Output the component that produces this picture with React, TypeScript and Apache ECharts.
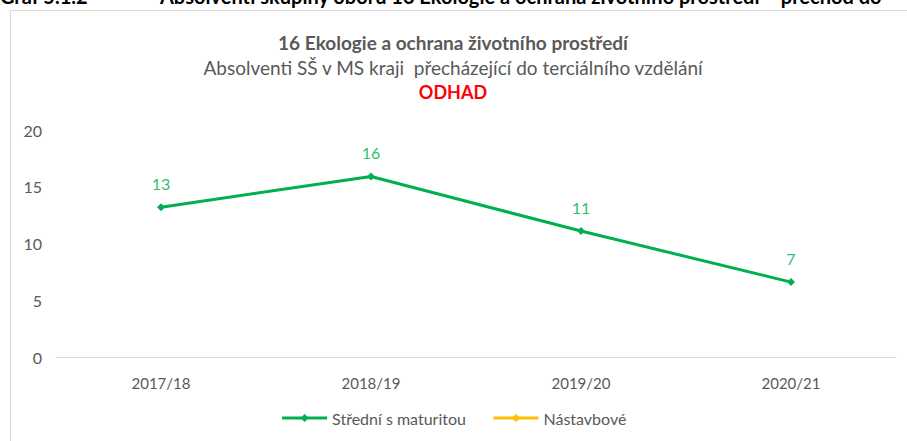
import React, { useEffect, useRef } from "react";
import * as echarts from "echarts";

const categories = ["2017/18", "2018/19", "2019/20", "2020/21"];
const stredniValues = [13.2, 15.9, 11.1, 6.6];
const nastavboveValues: (number | null)[] = [null, null, null, null];
const seriesNames = ["Střední s maturitou", "Nástavbové"];
const yTicks = { min: 0, max: 20, interval: 5 };

const FONT = "Lato, 'Open Sans', sans-serif";

export default function App() {
  const ref = useRef<HTMLDivElement>(null);
  useEffect(() => {
    document.body.style.margin = "0";
    if (!ref.current) return;
    const chart = echarts.init(ref.current, null, { renderer: "svg" });
    chart.setOption({
      animation: false,
      backgroundColor: "#ffffff",
      textStyle: { fontFamily: FONT },
      graphic: [
        {
          type: "rect",
          shape: { x: 10.5, y: 10.5, width: 920, height: 450 },
          style: { fill: "none", stroke: "#d9d9d9", lineWidth: 1 },
          silent: true,
        },
        {
          type: "text",
          x: 0,
          y: 6,
          style: {
            text: "Graf 5.1.2",
            fill: "#000",
            font: "bold 20px " + FONT,
            textVerticalAlign: "bottom",
          },
        },
        {
          type: "text",
          x: 160,
          y: 6,
          style: {
            text: "Absolventi skupiny oborů 16 Ekologie a ochrana životního prostředí – přechod do",
            fill: "#000",
            font: "bold 20px " + FONT,
            textVerticalAlign: "bottom",
          },
        },
        {
          type: "text",
          x: 453,
          y: 42,
          style: {
            text: "16 Ekologie a ochrana životního prostředí",
            fill: "#595959",
            font: "bold 19px " + FONT,
            textAlign: "center",
            textVerticalAlign: "middle",
          },
        },
        {
          type: "text",
          x: 453,
          y: 67,
          style: {
            text: "Absolventi SŠ v MS kraji  přecházející do terciálního vzdělání",
            fill: "#595959",
            font: "19px " + FONT,
            textAlign: "center",
            textVerticalAlign: "middle",
          },
        },
        {
          type: "text",
          x: 453,
          y: 92,
          style: {
            text: "ODHAD",
            fill: "#ff0000",
            font: "bold 18px " + FONT,
            textAlign: "center",
            textVerticalAlign: "middle",
          },
        },
      ],
      legend: {
        bottom: 10,
        left: "center",
        itemGap: 26,
        itemWidth: 45,
        itemHeight: 10,
        lineStyle: { width: 3 },
        textStyle: { color: "#595959", fontSize: 16, fontFamily: FONT },
        data: seriesNames,
      },
      grid: { left: 56, right: 11, top: 130, bottom: 84, containLabel: false },
      xAxis: {
        type: "category",
        data: categories,
        boundaryGap: true,
        axisLine: { lineStyle: { color: "#d9d9d9", width: 1 } },
        axisTick: { show: false },
        axisLabel: { color: "#595959", fontSize: 15, margin: 18, fontFamily: FONT },
      },
      yAxis: {
        type: "value",
        min: yTicks.min,
        max: yTicks.max,
        interval: yTicks.interval,
        axisLine: { show: false },
        axisTick: { show: false },
        splitLine: { show: false },
        axisLabel: { color: "#595959", fontSize: 16, margin: 14, fontFamily: FONT },
      },
      series: [
        {
          name: seriesNames[0],
          type: "line",
          data: stredniValues,
          color: "#00b050",
          lineStyle: { color: "#00b050", width: 3 },
          symbol: "diamond",
          symbolSize: 8,
          itemStyle: { color: "#00b050" },
          label: {
            show: true,
            position: "top",
            distance: 12,
            color: "#2fbf6a",
            fontSize: 16,
            fontFamily: FONT,
            formatter: (p: any) => String(Math.round(p.value)),
          },
        },
        {
          name: seriesNames[1],
          type: "line",
          data: nastavboveValues,
          color: "#ffc000",
          lineStyle: { color: "#ffc000", width: 3 },
          symbol: "diamond",
          symbolSize: 8,
          itemStyle: { color: "#ffc000" },
        },
      ],
    });
    return () => chart.dispose();
  }, []);
  return <div ref={ref} style={{ width: 907, height: 441 }} />;
}
